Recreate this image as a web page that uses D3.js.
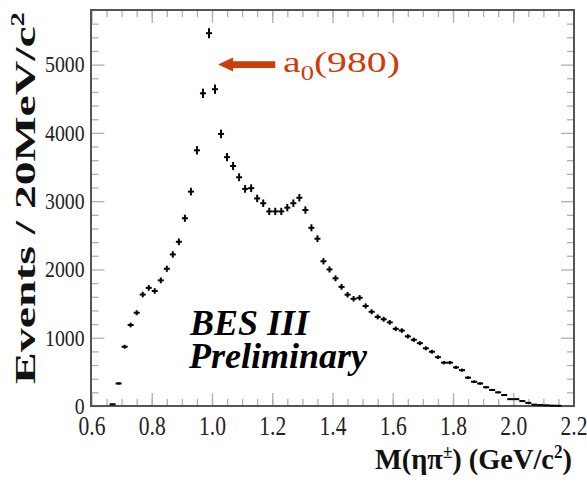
<!DOCTYPE html>
<html>
<head>
<meta charset="utf-8">
<script src="https://cdn.jsdelivr.net/npm/d3@7/dist/d3.min.js"></script>
<style>
body { margin: 0; background: #fff; }
text { font-family: "Liberation Serif", "Times New Roman", serif; }
</style>
</head>
<body>
<div id="chart"></div>
<script>
// bin centres (GeV/c^2), 20 MeV bins
var massBins = [0.67, 0.69, 0.71, 0.73, 0.75, 0.77, 0.79, 0.81, 0.83, 0.85,
    0.87, 0.89, 0.91, 0.93, 0.95, 0.97, 0.99, 1.01, 1.03, 1.05,
    1.07, 1.09, 1.11, 1.13, 1.15, 1.17, 1.19, 1.21, 1.23, 1.25,
    1.27, 1.29, 1.31, 1.33, 1.35, 1.37, 1.39, 1.41, 1.43, 1.45,
    1.47, 1.49, 1.51, 1.53, 1.55, 1.57, 1.59, 1.61, 1.63, 1.65,
    1.67, 1.69, 1.71, 1.73, 1.75, 1.77, 1.79, 1.81, 1.83, 1.85,
    1.87, 1.89, 1.91, 1.93, 1.95, 1.97, 1.99, 2.01, 2.03, 2.05,
    2.07, 2.09, 2.11, 2.13, 2.15];

// events per bin
var events = [25, 330, 868, 1186, 1366, 1632, 1730, 1685, 1840, 2010,
    2220, 2405, 2750, 3140, 3745, 4580, 5460, 4640, 3985, 3645,
    3515, 3350, 3180, 3190, 3040, 2970, 2850, 2850, 2850, 2905,
    2970, 3050, 2870, 2610, 2450, 2120, 2000, 1870, 1745, 1630,
    1570, 1585, 1465, 1380, 1305, 1270, 1225, 1130, 1105, 1020,
    970, 920, 845, 795, 715, 635, 635, 565, 525, 415,
    355, 330, 275, 235, 200, 160, 100, 100, 72, 46,
    20, 14, 10, 5, 3];

var xTicks = [0.6, 0.8, 1.0, 1.2, 1.4, 1.6, 1.8, 2.0, 2.2];
var xTickLabels = ["0.6", "0.8", "1.0", "1.2", "1.4", "1.6", "1.8", "2.0", "2.2"];
var yTicks = [0, 1000, 2000, 3000, 4000, 5000];
var yTickLabels = ["0", "1000", "2000", "3000", "4000", "5000"];

var binWidth = 0.02;
var width = 587, height = 493;
var plotLeft = 91.5, plotRight = 573.5, plotTop = 10, plotBottom = 406;

var svg = d3.select("#chart")
    .append("svg")
    .attr("width", width)
    .attr("height", height);

var xScale = d3.scaleLinear().domain([0.6, 2.2]).range([plotLeft, plotRight]);
var yScale = d3.scaleLinear().domain([0, 5800]).range([plotBottom, plotTop]);

var xMinor = d3.range(0.65, 2.2, 0.05);
var yMinor = d3.range(200, 5800, 200).filter(function(v) { return v % 1000 !== 0; });

// helper: draw a tick axis (ticks only, pointing inwards)
function tickAxis(axisFn, scale, values, size, transform) {
    var g = svg.append("g")
        .attr("transform", transform)
        .call(axisFn(scale).tickValues(values).tickSize(-size).tickFormat(""));
    g.select(".domain").remove();
    g.selectAll("line").attr("stroke", "#b0b0b0").attr("stroke-width", 1.3);
    return g;
}

tickAxis(d3.axisBottom, xScale, xMinor, 7, "translate(0," + plotBottom + ")");
tickAxis(d3.axisBottom, xScale, xTicks, 13, "translate(0," + plotBottom + ")");
tickAxis(d3.axisTop, xScale, xMinor, 7, "translate(0," + plotTop + ")");
tickAxis(d3.axisTop, xScale, xTicks, 13, "translate(0," + plotTop + ")");
tickAxis(d3.axisLeft, yScale, yMinor, 7, "translate(" + plotLeft + ",0)");
tickAxis(d3.axisLeft, yScale, yTicks, 13, "translate(" + plotLeft + ",0)");
tickAxis(d3.axisRight, yScale, yMinor, 7, "translate(" + (plotRight + 0.5) + ",0)");
tickAxis(d3.axisRight, yScale, yTicks, 13, "translate(" + (plotRight + 0.5) + ",0)");

// frame
svg.append("rect")
    .attr("x", plotLeft - 0.5)
    .attr("y", plotTop)
    .attr("width", plotRight - plotLeft + 1)
    .attr("height", plotBottom - plotTop)
    .attr("fill", "none")
    .attr("stroke", "#555")
    .attr("stroke-width", 2);

// tick labels
var xLabels = svg.append("g")
    .attr("transform", "translate(0," + plotBottom + ")")
    .call(d3.axisBottom(xScale).tickValues(xTicks).tickSize(0).tickPadding(9)
        .tickFormat(function(d, i) { return xTickLabels[i]; }));
xLabels.select(".domain").remove();
xLabels.selectAll("text")
    .attr("font-family", "Liberation Serif")
    .attr("font-size", 28)
    .attr("fill", "#222")
    .attr("transform", "scale(0.77,1)");

var yLabels = svg.append("g")
    .attr("transform", "translate(" + plotLeft + ",0)")
    .call(d3.axisLeft(yScale).tickValues(yTicks).tickSize(0).tickPadding(8)
        .tickFormat(function(d, i) { return yTickLabels[i]; }));
yLabels.select(".domain").remove();
yLabels.selectAll("text")
    .attr("font-family", "Liberation Serif")
    .attr("font-size", 23)
    .attr("fill", "#222")
    .attr("transform", "scale(0.86,1)");

// data points: bin width horizontally, sqrt(N) vertically
var points = svg.append("g").selectAll("g")
    .data(massBins)
    .enter()
    .append("g");

points.append("line")
    .attr("x1", function(d) { return xScale(d - binWidth / 2); })
    .attr("x2", function(d) { return xScale(d + binWidth / 2); })
    .attr("y1", function(d, i) { return yScale(events[i]); })
    .attr("y2", function(d, i) { return yScale(events[i]); })
    .attr("stroke", "#000")
    .attr("stroke-width", 2);

points.append("line")
    .attr("x1", function(d) { return xScale(d); })
    .attr("x2", function(d) { return xScale(d); })
    .attr("y1", function(d, i) { return yScale(events[i] - Math.sqrt(events[i])); })
    .attr("y2", function(d, i) { return yScale(events[i] + Math.sqrt(events[i])); })
    .attr("stroke", "#000")
    .attr("stroke-width", 2);

// stretch a text element horizontally so it spans a target width
function fitScale(sel, target) {
    return target / sel.node().getBBox().width;
}

// axis titles
var xTitle = svg.append("text")
    .attr("font-weight", "bold")
    .attr("font-size", 30)
    .attr("fill", "#111");
xTitle.append("tspan").text("M(ηπ");
xTitle.append("tspan").attr("font-size", 18).attr("dy", -11).text("±");
xTitle.append("tspan").attr("dy", 11).text(") (GeV/c");
xTitle.append("tspan").attr("font-size", 18).attr("dy", -11).text("2");
xTitle.append("tspan").attr("dy", 11).text(")");
xTitle.attr("transform", "translate(375,469) scale(" + fitScale(xTitle, 197) + ",1)");

var yTitle = svg.append("text")
    .attr("font-weight", "bold")
    .attr("font-size", 30)
    .attr("fill", "#111")
    .attr("text-anchor", "middle");
yTitle.append("tspan").text("Events / 20MeV/c");
yTitle.append("tspan").attr("font-size", 18).attr("dy", -11).text("2");
yTitle.attr("transform", "translate(35,198) rotate(-90) scale(" + fitScale(yTitle, 372) + ",1)");

// BES III Preliminary
svg.append("text")
    .attr("x", 190).attr("y", 335)
    .attr("font-size", 36)
    .attr("font-weight", "bold")
    .attr("font-style", "italic")
    .text("BES III");
svg.append("text")
    .attr("x", 189).attr("y", 368)
    .attr("font-size", 36)
    .attr("font-weight", "bold")
    .attr("font-style", "italic")
    .text("Preliminary");

// a0(980) annotation
var annColor = "#cc3d0c";
var arrowFrom = 1.21, arrowTo = 1.02, arrowAt = 5000;
var ax0 = xScale(arrowTo), ax1 = xScale(arrowFrom), ay = yScale(arrowAt);
svg.append("path")
    .attr("d", "M" + ax0 + "," + ay +
        "L" + (ax0 + 15) + "," + (ay - 7) +
        "L" + (ax0 + 15) + "," + (ay - 3.3) +
        "L" + ax1 + "," + (ay - 3.3) +
        "L" + ax1 + "," + (ay + 3.3) +
        "L" + (ax0 + 15) + "," + (ay + 3.3) +
        "L" + (ax0 + 15) + "," + (ay + 7) + "Z")
    .attr("fill", annColor);

var ann = svg.append("text")
    .attr("font-family", "Open Sans")
    .attr("font-size", 30)
    .attr("fill", annColor);
ann.append("tspan").text("a");
ann.append("tspan").attr("font-size", 20).attr("dy", 8).text("0");
ann.append("tspan").attr("dy", -8).text("(980)");
ann.attr("transform", "translate(283,72) scale(" + fitScale(ann, 117) + ",1)");
</script>
</body>
</html>
